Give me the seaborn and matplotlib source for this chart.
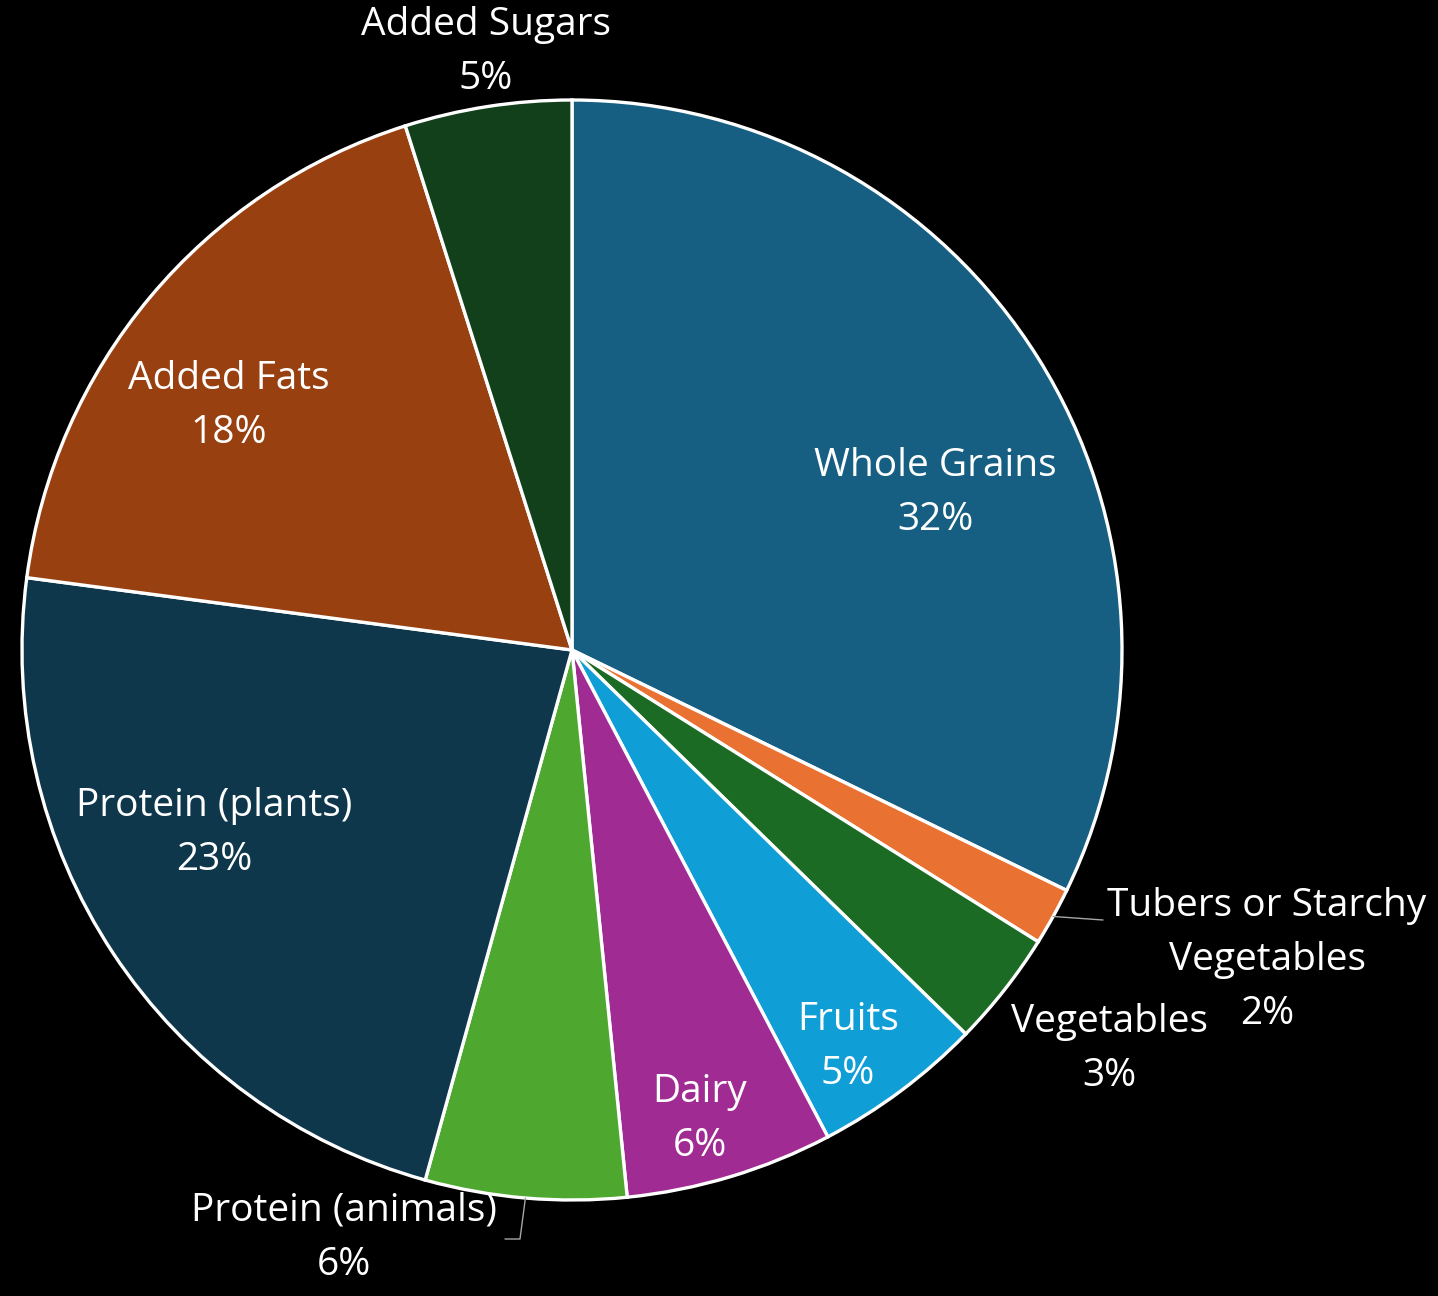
import numpy as np
import matplotlib
matplotlib.use("Agg")
import matplotlib.pyplot as plt
import seaborn as sns

# Share of daily energy by food group (percent)
categories = ["Whole Grains", "Tubers or Starchy\nVegetables", "Vegetables", "Fruits", "Dairy",
              "Protein (animals)", "Protein (plants)", "Added Fats", "Added Sugars"]
shares = [32.2, 1.7, 3.4, 5.0, 6.1, 5.9, 22.8, 18.0, 4.9]
slice_colors = ["#165F82", "#E97132", "#1B6B24", "#0F9ED5", "#A02B93",
                "#4EA72E", "#0E374C", "#984010", "#12401A"]

sns.set_style("dark")
plt.rcParams["font.family"] = ["Open Sans", "DejaVu Sans"]

W, H, DPI = 1438, 1296, 100
CX, CY, R = 572, 650, 550  # pie centre and radius in pixels
LINE_PX = 54               # distance between label lines in pixels

fig = plt.figure(figsize=(W / DPI, H / DPI), dpi=DPI, facecolor="black")
ax = fig.add_axes([0, 0, 1, 1])
ax.set_facecolor("black")

palette = sns.color_palette(slice_colors)
wedges, _ = ax.pie(shares, colors=palette, startangle=90, counterclock=False, radius=1,
                   center=(0, 0), wedgeprops=dict(edgecolor="white", linewidth=2.4),
                   frame=True)
ax.set_xlim(-CX / R, (W - CX) / R)
ax.set_ylim(-(H - CY) / R, CY / R)
ax.set_aspect("equal")
ax.axis("off")

# label placement (pixel positions of each label block centre)
label_px = {
    "Whole Grains": (935, 493),
    "Tubers or Starchy\nVegetables": (1267, 960),
    "Vegetables": (1109, 1049),
    "Fruits": (848, 1047),
    "Dairy": (700, 1119),
    "Protein (animals)": (344, 1238),
    "Protein (plants)": (214, 833),
    "Added Fats": (229, 406),
    "Added Sugars": (486, 52),
}

def to_data(px, py):
    return (px - CX) / R, (CY - py) / R

# each label line is its own text so the stacked lines keep a fixed pitch
for cat, val in zip(categories, shares):
    lines = cat.split("\n") + [f"{val:.0f}%"]
    bx, by = label_px[cat]
    n = len(lines)
    for i, line in enumerate(lines):
        x, y = to_data(bx, by + (i - (n - 1) / 2) * LINE_PX)
        ax.text(x, y, line, ha="center", va="center", color="white", fontsize=28)

# leader lines for the two small slices placed outside
def arc_point(w):
    theta = np.deg2rad((w.theta1 + w.theta2) / 2)
    return np.cos(theta), np.sin(theta)

lead = dict(color="#A6A6A6", linewidth=1.0)
sx, sy = arc_point(wedges[1])
ex, ey = to_data(1103, 920)
ax.plot([sx, ex], [sy, ey], **lead)

sx, sy = arc_point(wedges[5])
mx, my = to_data(520, 1239)
ex, ey = to_data(505, 1239)
ax.plot([sx, mx, ex], [sy, my, ey], **lead)

fig.savefig("out.png", dpi=DPI, facecolor="black")
